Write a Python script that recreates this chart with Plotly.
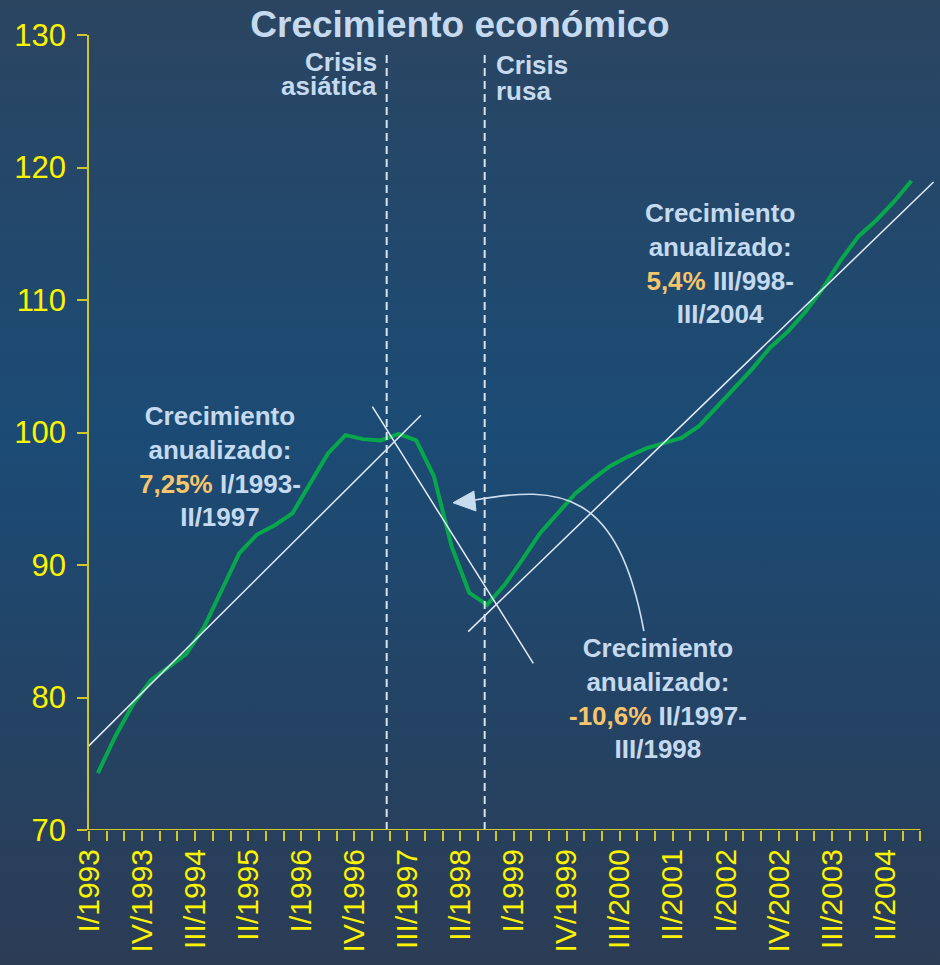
import base64
import plotly.graph_objects as go

# Quarterly activity index, I/1993 .. III/2004
GDP_INDEX = [
    74.3, 77.1, 79.5, 81.3, 82.3, 83.3, 85.3, 88.1, 90.9, 92.3, 93.0, 93.9,
    96.2, 98.4, 99.8, 99.5, 99.4, 99.9, 99.4, 96.7, 91.4, 87.9, 87.0, 88.5,
    90.4, 92.4, 93.9, 95.4, 96.5, 97.5, 98.2, 98.8, 99.2, 99.6, 100.5, 101.9,
    103.3, 104.8, 106.4, 107.6, 109.1, 110.9, 113.0, 114.8, 116.0, 117.4, 119.0,
]

ROMAN = ["I", "II", "III", "IV"]
YEARS = list(range(1993, 2005))
QUARTERS = [f"{r}/{y}" for y in YEARS for r in ROMAN]  # 48 quarter slots
N_SLOTS = 48
LABEL_STEP = 3

Y_TICKS = [70, 80, 90, 100, 110, 120, 130]

# Trend segments (x in quarter slots, y in index points)
TREND_LINES = [
    (-0.2, 76.1, 18.77, 101.3),    # I/1993 - II/1997
    (16.02, 101.95, 25.12, 82.58),  # II/1997 - III/1998
    (21.44, 84.97, 47.75, 118.9),   # III/1998 - III/2004
]

# Crisis markers
CRISIS_X = {"asiatica": 16.83, "rusa": 22.37}

# Curved pointer from the middle label towards the falling trend
POINTER = [(31.37, 85.02), (29.90, 95.66), (26.63, 96.04), (21.82, 94.91)]
POINTER_HEAD = [(20.58, 94.70), (21.76, 95.58), (21.88, 94.08)]

FONT = "Liberation Sans, Arial, Helvetica, sans-serif"
TEXT_BLUE = "#c6daef"
PCT_ORANGE = "#f7c56c"
AXIS_YELLOW = "#cfc62a"
LABEL_YELLOW = "#fbf300"
GREEN = "#07a84c"

L, R, T, B = 89, 2, 35, 135
W, H = 940, 965
plot_w = W - L - R
plot_h = H - T - B

x_pos = [i + 0.5 for i in range(len(GDP_INDEX))]

fig = go.Figure()
fig.add_trace(go.Scatter(
    x=x_pos, y=GDP_INDEX, mode="lines",
    line=dict(color=GREEN, width=4),
    hoverinfo="skip", showlegend=False,
))

# Background gradient
svg = (
    f'<svg xmlns="http://www.w3.org/2000/svg" width="{W}" height="{H}">'
    '<defs><linearGradient id="g" x1="0" y1="0" x2="0" y2="1">'
    '<stop offset="0" stop-color="#2b4561"/>'
    '<stop offset="0.45" stop-color="#1b4b75"/>'
    '<stop offset="1" stop-color="#2c3c55"/>'
    '</linearGradient></defs>'
    f'<rect width="{W}" height="{H}" fill="url(#g)"/></svg>'
)
bg_src = "data:image/svg+xml;base64," + base64.b64encode(svg.encode()).decode()

shapes = []
for x0, y0, x1, y1 in TREND_LINES:
    shapes.append(dict(type="line", xref="x", yref="y", x0=x0, y0=y0, x1=x1, y1=y1,
                       line=dict(color="#e4edf8", width=1.5)))
for xc in CRISIS_X.values():
    shapes.append(dict(type="line", xref="x", yref="y", x0=xc, x1=xc, y0=70, y1=128.6,
                       line=dict(color="#d6e4f2", width=2, dash="8px,5px")))

p0, p1, p2, p3 = POINTER
shapes.append(dict(
    type="path", xref="x", yref="y",
    path=f"M {p0[0]},{p0[1]} C {p1[0]},{p1[1]} {p2[0]},{p2[1]} {p3[0]},{p3[1]}",
    line=dict(color="#cfdff0", width=1.6),
))
h0, h1, h2 = POINTER_HEAD
shapes.append(dict(
    type="path", xref="x", yref="y",
    path=f"M {h0[0]},{h0[1]} L {h1[0]},{h1[1]} L {h2[0]},{h2[1]} Z",
    fillcolor="#c8dcf0", line=dict(color="#c8dcf0", width=1),
))
# x axis baseline, ending at the last quarter slot
shapes.append(dict(type="line", xref="x", yref="y", x0=0, x1=N_SLOTS - 1, y0=70, y1=70,
                   line=dict(color=AXIS_YELLOW, width=2)))


def growth_label(pct, first, second):
    return (f"<b>Crecimiento<br>anualizado:<br>"
            f"<span style='color:{PCT_ORANGE}'>{pct}</span> {first}<br>{second}</b>")


annotations = [
    dict(x=7.41, y=97.4, text=growth_label("7,25%", "I/1993-", "II/1997")),
    dict(x=32.17, y=79.96, text=growth_label("-10,6%", "II/1997-", "III/1998")),
    dict(x=35.67, y=112.75, text=growth_label("5,4%", "III/998-", "III/2004")),
]
for a in annotations:
    a.update(xref="x", yref="y", showarrow=False, xanchor="center", yanchor="middle",
             align="center", font=dict(family=FONT, size=26, color=TEXT_BLUE))

crisis_text = [
    ("Crisis", CRISIS_X["asiatica"], 128.0, "right", -8),
    ("asiática", CRISIS_X["asiatica"], 126.13, "right", -8),
    ("Crisis", CRISIS_X["rusa"], 127.71, "left", 9),
    ("rusa", CRISIS_X["rusa"], 125.75, "left", 9),
]
for txt, xc, yc, anchor, shift in crisis_text:
    annotations.append(dict(
        x=xc, y=yc, xref="x", yref="y", text=f"<b>{txt}</b>", showarrow=False,
        xanchor=anchor, yanchor="middle", xshift=shift,
        font=dict(family=FONT, size=26, color=TEXT_BLUE),
    ))

tick_text = [QUARTERS[i] if i % LABEL_STEP == 0 else "" for i in range(N_SLOTS)]

fig.update_layout(
    width=W, height=H,
    margin=dict(l=L, r=R, t=T, b=B, pad=0),
    paper_bgcolor="#1f4769",
    plot_bgcolor="rgba(0,0,0,0)",
    font=dict(family=FONT),
    title=dict(
        text="<b>Crecimiento económico</b>",
        x=460 / W, xanchor="center", xref="container",
        y=1 - 24 / H, yanchor="middle", yref="container",
        font=dict(family=FONT, size=37, color=TEXT_BLUE),
    ),
    images=[dict(
        source=bg_src, xref="paper", yref="paper",
        x=-L / plot_w, y=1 + T / plot_h, sizex=W / plot_w, sizey=H / plot_h,
        xanchor="left", yanchor="top", sizing="stretch", layer="below",
    )],
    shapes=shapes,
    annotations=annotations,
    showlegend=False,
)

fig.update_xaxes(
    range=[0, N_SLOTS], tickmode="array", tickvals=list(range(N_SLOTS)), ticktext=tick_text,
    tickangle=-90, ticks="outside", ticklen=10, tickwidth=1.5, tickcolor=AXIS_YELLOW,
    tickfont=dict(family=FONT, size=30, color=LABEL_YELLOW),
    showline=False, showgrid=False, zeroline=False, automargin=False,
    ticklabelstandoff=-4,
)
fig.update_yaxes(
    range=[70, 130], tickmode="array", tickvals=Y_TICKS,
    ticks="outside", ticklen=10, tickwidth=1.5, tickcolor=AXIS_YELLOW,
    tickfont=dict(family=FONT, size=31, color=LABEL_YELLOW),
    showline=True, linecolor=AXIS_YELLOW, linewidth=1.5,
    showgrid=False, zeroline=False, automargin=False,
    ticklabelstandoff=5,
)

fig.write_html("out.html")
